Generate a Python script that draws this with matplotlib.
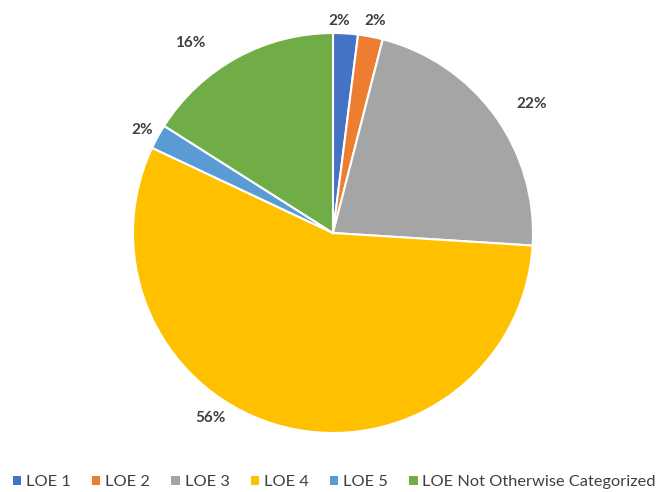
import matplotlib
matplotlib.use("Agg")
import matplotlib.pyplot as plt
from matplotlib.patches import Patch

# level-of-evidence breakdown
categories = ["LOE 1", "LOE 2", "LOE 3", "LOE 4", "LOE 5", "LOE Not Otherwise Categorized"]
shares = [2, 2, 22, 56, 2, 16]
colors = ["#4472C4", "#ED7D31", "#A5A5A5", "#FFC000", "#5B9BD5", "#70AD47"]

# where each percentage label sits (pie radius = 1)
label_pos = [(0.03, 1.06), (0.21, 1.06), (0.995, 0.645),
             (-0.615, -0.925), (-0.955, 0.515), (-0.715, 0.95)]

plt.rcParams['font.family'] = ['Lato', 'DejaVu Sans']

fig = plt.figure(figsize=(6.62, 4.92), dpi=100)
# axes sized so the pie radius is ~200 px, centered near (333, 233)
ax = fig.add_axes([(333 - 215) / 662, (492 - 233 - 215) / 492, 430 / 662, 430 / 492])

ax.pie(shares, colors=colors, startangle=90, counterclock=False, radius=1,
       wedgeprops=dict(edgecolor="white", linewidth=1.5))
ax.set_xlim(-1.075, 1.075)
ax.set_ylim(-1.075, 1.075)
ax.set_aspect("equal")

for v, (x, y) in zip(shares, label_pos):
    ax.text(x, y, f"{v}%", ha="center", va="center", fontsize=11,
            fontweight="bold", color="#404040")

handles = [Patch(facecolor=c, edgecolor="none") for c in colors]
fig.legend(handles, categories, loc="center left", bbox_to_anchor=(13 / 662, 1 - 482 / 492),
           ncol=6, frameon=False, fontsize=11.8, handlelength=0.5, handleheight=0.5,
           handletextpad=0.3, columnspacing=1.3, labelcolor="#404040",
           borderaxespad=0, borderpad=0)

fig.savefig("out.png", dpi=100, facecolor="white")
